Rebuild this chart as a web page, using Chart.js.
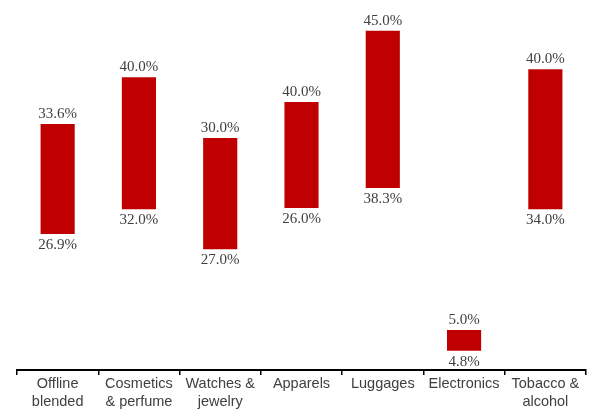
<!DOCTYPE html>
<html>
<head>
<meta charset="utf-8">
<script src="https://cdn.jsdelivr.net/npm/chart.js@4.4.1/dist/chart.umd.min.js"></script>
<style>
  html, body { margin: 0; padding: 0; background: #fff; }
  #wrap { width: 599px; height: 412px; position: relative; }
</style>
</head>
<body>
<div id="wrap"><canvas id="c" width="599" height="412"></canvas></div>
<script>
// Categories (multi-line labels)
const categories = [
  ["Offline", "blended"],
  ["Cosmetics", "& perfume"],
  ["Watches &", "jewelry"],
  ["Apparels"],
  ["Luggages"],
  ["Electronics"],
  ["Tobacco &", "alcohol"]
];
// Bar extents as drawn in the picture (hidden axis units)
const barLow  = [17.0, 20.1, 15.1, 20.25, 22.75, 2.4, 20.1];
const barHigh = [30.75, 36.6, 29.0, 33.5, 42.4, 5.0, 37.6];
// Value labels printed at top and bottom of each bar
const topLabels    = ["33.6%", "40.0%", "30.0%", "40.0%", "45.0%", "5.0%", "40.0%"];
const bottomLabels = ["26.9%", "32.0%", "27.0%", "26.0%", "38.3%", "4.8%", "34.0%"];

const ranges = barLow.map((lo, i) => [lo, barHigh[i]]);

const labelPlugin = {
  id: 'rangeLabels',
  afterDatasetsDraw(chart) {
    const ctx = chart.ctx;
    const meta = chart.getDatasetMeta(0);
    ctx.save();
    ctx.font = '15px "Liberation Serif", "Times New Roman", serif';
    ctx.fillStyle = '#404040';
    ctx.textAlign = 'center';
    ctx.textBaseline = 'middle';
    meta.data.forEach((bar, i) => {
      const p = bar.getProps(['x', 'y', 'base'], true);
      const top = Math.min(p.y, p.base);
      const bot = Math.max(p.y, p.base);
      ctx.fillText(topLabels[i], p.x, top - 10);
      ctx.fillText(bottomLabels[i], p.x, bot + 11);
    });
    ctx.restore();
  }
};

new Chart(document.getElementById('c'), {
  type: 'bar',
  data: {
    labels: categories,
    datasets: [{
      data: ranges,
      backgroundColor: '#C00000',
      borderWidth: 0,
      borderSkipped: false,
      categoryPercentage: 1.0,
      barPercentage: 0.42
    }]
  },
  options: {
    responsive: false,
    animation: false,
    devicePixelRatio: 1,
    layout: { padding: { left: 17, right: 13, top: 10, bottom: 0 } },
    plugins: { legend: { display: false }, tooltip: { enabled: false } },
    scales: {
      x: {
        grid: {
          display: true,
          offset: true,
          drawOnChartArea: false,
          drawTicks: true,
          tickLength: 5,
          color: '#000',
          lineWidth: 1.5
        },
        border: { display: true, color: '#000', width: 2 },
        ticks: {
          color: '#404040',
          font: { family: '"Liberation Sans", Arial, sans-serif', size: 14.5, lineHeight: 1.24 },
          padding: 0,
          maxRotation: 0,
          autoSkip: false
        },
        afterFit(scale) { scale.height = 42; }
      },
      y: {
        display: false,
        min: 0,
        max: 45
      }
    }
  },
  plugins: [labelPlugin]
});
</script>
</body>
</html>
